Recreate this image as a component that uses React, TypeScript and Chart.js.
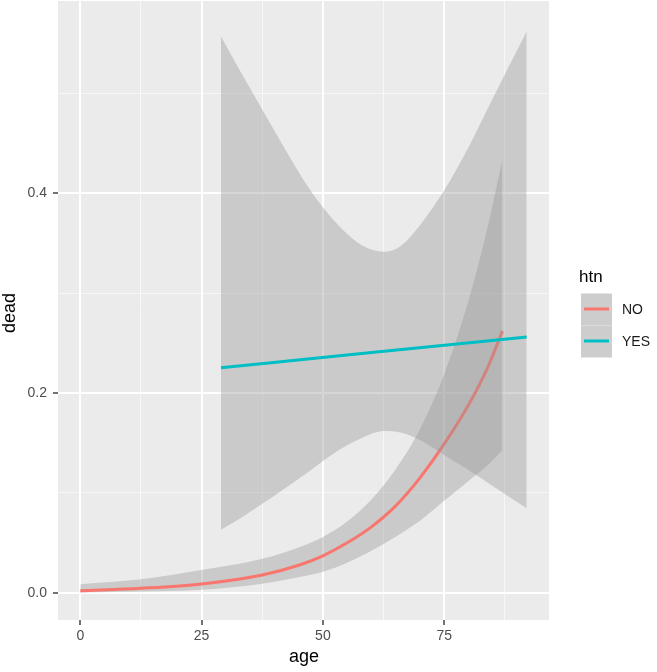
import React, { useEffect, useRef } from "react";
import { Chart, registerables } from "chart.js";

Chart.register(...registerables);

// ---------- data ----------
const legendTitle = "htn";
const groups = ["NO", "YES"];
const groupColors = ["#F8766D", "#00BFC4"];
const xTitle = "age";
const yTitle = "dead";

const noAge = [0, 12.5, 25, 37.5, 45, 50, 55, 60, 65, 70, 75, 80, 84, 87];
const noFit = [0.002, 0.0045, 0.0088, 0.0178, 0.0275, 0.037, 0.05, 0.066, 0.087, 0.115, 0.149, 0.188, 0.226, 0.262];
const noUpper = [0.0085, 0.0135, 0.0228, 0.034, 0.0453, 0.0559, 0.0714, 0.0935, 0.1237, 0.1637, 0.2187, 0.2923, 0.367, 0.434];
const noLower = [0.0003, 0.0012, 0.003, 0.009, 0.0155, 0.021, 0.03, 0.042, 0.056, 0.072, 0.092, 0.112, 0.128, 0.143];

const yesAge = [29, 33, 37.5, 42, 47, 50, 54, 58, 62.5, 66, 70, 75, 80, 85, 92];
const yesUpper = [0.557, 0.522, 0.484, 0.446, 0.406, 0.386, 0.364, 0.348, 0.3415, 0.347, 0.368, 0.403, 0.446, 0.495, 0.562];
const yesLower = [0.063, 0.0745, 0.089, 0.104, 0.121, 0.132, 0.145, 0.155, 0.162, 0.1605, 0.153, 0.138, 0.123, 0.107, 0.0845];
const yesLineAge = [29, 60, 92];
const yesFit = [0.2254, 0.2405, 0.256];

const xMajor = [0, 25, 50, 75];
const xMinor = [12.5, 37.5, 62.5, 87.5];
const yMajor = [0, 0.2, 0.4];
const yMinor = [0.1, 0.3, 0.5];

// ---------- helpers ----------
const pts = (xs: number[], ys: number[]) => xs.map((x, i) => ({ x, y: ys[i] }));
const FONT = "'Liberation Sans', Arial, Helvetica, sans-serif";
const RIBBON = "rgba(153,153,153,0.4)";

const panelBg = {
  id: "panelBg",
  beforeDraw(chart: any) {
    const { ctx, chartArea: a } = chart;
    ctx.save();
    ctx.fillStyle = "#FFFFFF";
    ctx.fillRect(0, 0, chart.width, chart.height);
    ctx.fillStyle = "#EBEBEB";
    ctx.fillRect(a.left, a.top, a.right - a.left, a.bottom - a.top);
    ctx.restore();
  },
};

const ggDecor = {
  id: "ggDecor",
  afterDraw(chart: any) {
    const { ctx, chartArea: a } = chart;
    ctx.save();
    // axis titles
    ctx.fillStyle = "#000";
    ctx.font = `18px ${FONT}`;
    ctx.textBaseline = "alphabetic";
    ctx.textAlign = "center";
    ctx.fillText(xTitle, (a.left + a.right) / 2 + 0.5, 661.5);
    ctx.save();
    ctx.translate(15, 313);
    ctx.rotate(-Math.PI / 2);
    ctx.fillText(yTitle, 0, 0);
    ctx.restore();

    // legend
    ctx.textAlign = "left";
    ctx.font = `17px ${FONT}`;
    ctx.fillText(legendTitle, 579, 282);
    const keyX = 581;
    const keyW = 31;
    const keyH = 32;
    const keyTop = 293.5;
    groups.forEach((g, i) => {
      const y0 = keyTop + i * keyH;
      const cy = y0 + keyH / 2 - 0.5;
      ctx.fillStyle = "#CDCDCD";
      ctx.fillRect(keyX, y0, keyW, keyH);
      ctx.strokeStyle = groupColors[i];
      ctx.lineWidth = 3;
      ctx.beginPath();
      ctx.moveTo(keyX + 3, cy);
      ctx.lineTo(keyX + keyW - 3, cy);
      ctx.stroke();
      ctx.fillStyle = "#1A1A1A";
      ctx.font = `14px ${FONT}`;
      ctx.fillText(g, 622, cy + 5);
    });
    ctx.restore();
  },
};

const isIn = (arr: number[], v: number) => arr.some((a) => Math.abs(a - v) < 1e-9);

export default function App() {
  const ref = useRef<HTMLCanvasElement | null>(null);

  useEffect(() => {
    if (!ref.current) return;
    const lineDs = (data: any[], color: string) => ({
      data,
      borderColor: color,
      borderWidth: 3,
      pointRadius: 0,
      fill: false,
      cubicInterpolationMode: "monotone",
    });
    const bandDs = (data: any[], fill: any) => ({
      data,
      borderWidth: 0,
      borderColor: "rgba(0,0,0,0)",
      backgroundColor: RIBBON,
      pointRadius: 0,
      fill,
      cubicInterpolationMode: "monotone",
    });

    const chart = new Chart(ref.current, {
      type: "line",
      data: {
        datasets: [
          lineDs(pts(yesLineAge, yesFit), groupColors[1]),
          bandDs(pts(yesAge, yesUpper), "+1"),
          bandDs(pts(yesAge, yesLower), false),
          lineDs(pts(noAge, noFit), groupColors[0]),
          bandDs(pts(noAge, noUpper), "+1"),
          bandDs(pts(noAge, noLower), false),
        ] as any,
      },
      options: {
        responsive: false,
        maintainAspectRatio: false,
        animation: false,
        events: [],
        layout: { autoPadding: false, padding: { left: 0, top: 1, right: 108, bottom: 0 } },
        plugins: {
          legend: { display: false },
          tooltip: { enabled: false },
        },
        scales: {
          x: {
            type: "linear",
            min: -4.6,
            max: 96.6,
            afterBuildTicks: (scale: any) => {
              scale.ticks = [...xMajor, ...xMinor].sort((a, b) => a - b).map((v) => ({ value: v }));
            },
            afterFit: (scale: any) => {
              scale.height = 52;
              scale.paddingLeft = 0;
              scale.paddingRight = 0;
            },
            border: { display: false },
            grid: {
              color: (c: any) => (c.tick && isIn(xMajor, c.tick.value) ? "#FFFFFF" : "rgba(255,255,255,0.6)"),
              lineWidth: (c: any) => (c.tick && isIn(xMajor, c.tick.value) ? 2 : 1),
              tickColor: (c: any) => (c.tick && isIn(xMajor, c.tick.value) ? "#444444" : "rgba(0,0,0,0)"),
              tickWidth: 1.5,
              tickLength: 5,
            },
            ticks: {
              autoSkip: false,
              maxRotation: 0,
              padding: 3,
              color: "#4D4D4D",
              font: { family: FONT, size: 14 },
              callback: (v: any) => (isIn(xMajor, Number(v)) ? String(v) : ""),
            },
            title: { display: false },
          },
          y: {
            type: "linear",
            min: -0.0273,
            max: 0.5926,
            afterBuildTicks: (scale: any) => {
              scale.ticks = [...yMajor, ...yMinor].sort((a, b) => a - b).map((v) => ({ value: v }));
            },
            afterFit: (scale: any) => {
              scale.width = 58;
              scale.paddingTop = 0;
              scale.paddingBottom = 0;
            },
            border: { display: false },
            grid: {
              color: (c: any) => (c.tick && isIn(yMajor, c.tick.value) ? "#FFFFFF" : "rgba(255,255,255,0.6)"),
              lineWidth: (c: any) => (c.tick && isIn(yMajor, c.tick.value) ? 2 : 1),
              tickColor: (c: any) => (c.tick && isIn(yMajor, c.tick.value) ? "#444444" : "rgba(0,0,0,0)"),
              tickWidth: 1.5,
              tickLength: 5,
            },
            ticks: {
              autoSkip: false,
              padding: 6,
              color: "#4D4D4D",
              font: { family: FONT, size: 14 },
              callback: (v: any) => (isIn(yMajor, Number(v)) ? Number(v).toFixed(1) : ""),
            },
            title: { display: false },
          },
        },
      } as any,
      plugins: [panelBg, ggDecor],
    });
    return () => chart.destroy();
  }, []);

  return (
    <div style={{ position: "absolute", left: 0, top: 0, width: 657, height: 672, background: "#fff" }}>
      <canvas ref={ref} width={657} height={672} style={{ display: "block", width: 657, height: 672 }} />
    </div>
  );
}
